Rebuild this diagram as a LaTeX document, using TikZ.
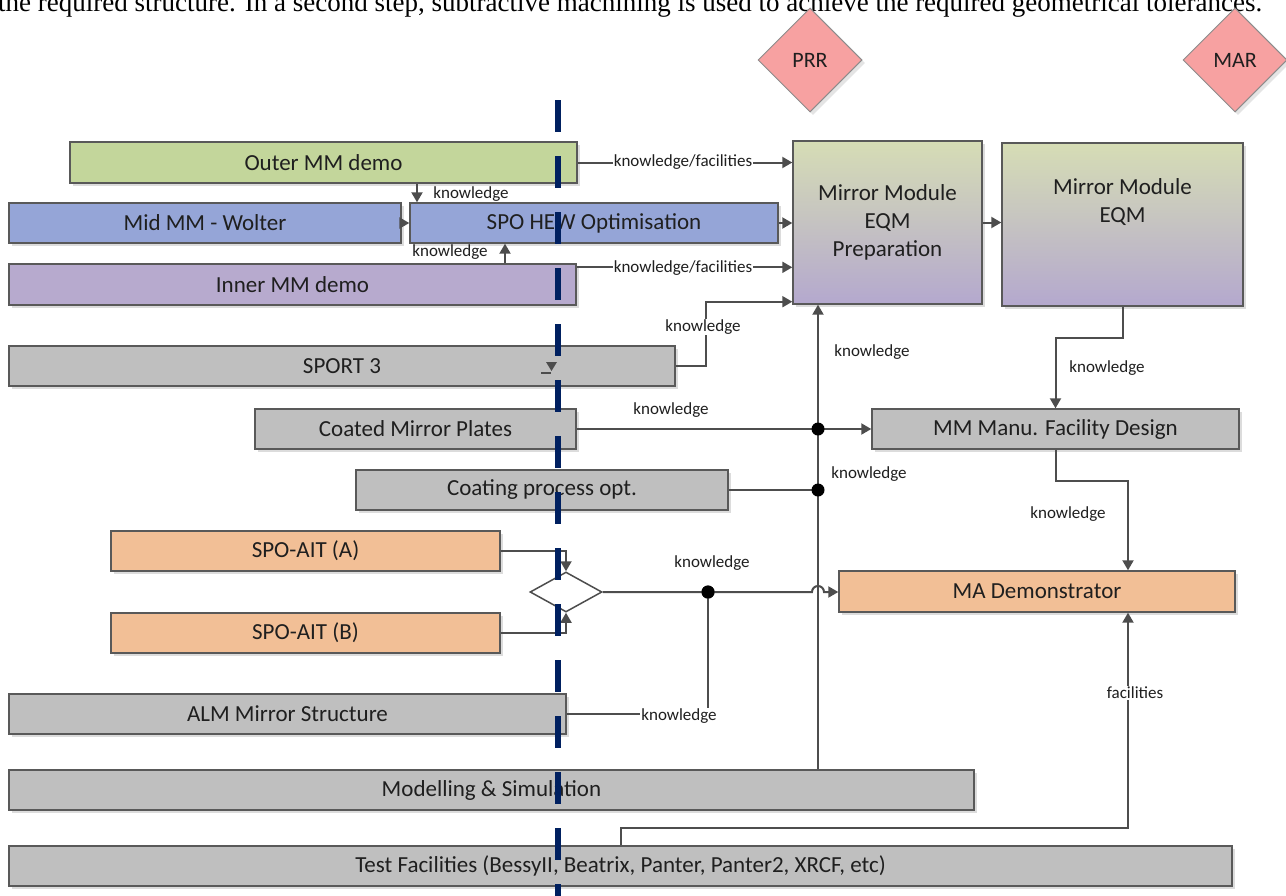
\documentclass[tikz,border=0pt]{standalone}
\usepackage{fontspec}
\setmainfont{Carlito}
\newfontfamily\serifx{Liberation Serif}
\usetikzlibrary{arrows.meta,shapes.geometric,shadows,calc}
\definecolor{cgreen}{HTML}{C3D69B}
\definecolor{cblue}{HTML}{95A5D7}
\definecolor{cpurple}{HTML}{B7AACE}
\definecolor{cgray}{HTML}{BFBFBF}
\definecolor{corange}{HTML}{F2BF96}
\definecolor{cpink}{HTML}{F7A1A1}
\definecolor{gtop}{HTML}{D6DDB5}
\definecolor{gbot}{HTML}{B4A8CE}
\definecolor{bordc}{HTML}{595959}
\definecolor{linec}{HTML}{4D4D4D}
\definecolor{txtc}{HTML}{1F1F1F}
\definecolor{navy}{HTML}{002060}
\begin{document}
\begin{tikzpicture}[x=1pt,y=-1pt,
  box/.style={draw=bordc,line width=1.4pt,minimum height=40pt,inner sep=0pt,
    font=\fontsize{23}{28}\selectfont,text=txtc,
    drop shadow={shadow xshift=3pt,shadow yshift=-3pt,fill=black!30,opacity=0.45}},
  conn/.style={draw=linec,line width=2pt},
  arr/.style={conn,-{Triangle[width=11pt,length=10pt]}},
  lab/.style={font=\fontsize{17}{19}\selectfont,text=txtc,inner sep=1pt},
  labw/.style={lab,fill=white},
  dot/.style={circle,fill=black,inner sep=0pt,minimum size=13pt},
  milestone/.style={diamond,draw=black!45,line width=1pt,fill=cpink,minimum width=104pt,
    minimum height=104pt,inner sep=0pt,font=\fontsize{22}{24}\selectfont,text=txtc,
    drop shadow={shadow xshift=3pt,shadow yshift=-3pt,fill=black!30,opacity=0.35}}
]
\useasboundingbox (0,0) rectangle (1286,895);
\fill[white] (0,0) rectangle (1286,895);

% clipped text line at the top
\node[anchor=base west,inner sep=0pt,font=\serifx\fontsize{27}{27}\selectfont] (toptext) at (-2,11)
  {the required structure. In a second step, subtractive machining is used to achieve the required geometrical tolerances.};

% milestones
\node[milestone] (prr) at (810,60) {PRR};
\node[milestone] (mar) at (1235,60) {MAR};

% boxes
\node[box,fill=cgreen,minimum width=507pt,minimum height=41pt] (outer) at (323.5,162.5) {Outer MM demo};
\node[box,fill=cblue,minimum width=392pt] (mid) at (205,223) {Mid MM - Wolter};
\node[box,fill=cblue,minimum width=368pt] (spo) at (594,223) {SPO HEW Optimisation};
\node[box,fill=cpurple,minimum width=567pt,minimum height=41pt] (inner) at (292.5,284.5) {Inner MM demo};
\node[box,top color=gtop,bottom color=gbot,minimum width=189pt,minimum height=163pt,align=center] (prep) at (887.5,222.5) {Mirror Module\\EQM\\Preparation};
\node[box,top color=gtop,bottom color=gbot,minimum width=241pt,minimum height=163pt,align=center] (eqm) at (1122.5,224.5) {Mirror Module\\EQM\\[20pt]};
\node[box,fill=cgray,minimum width=666pt] (sport) at (342,366) {SPORT 3};
\node[box,fill=cgray,minimum width=321pt] (cmp) at (415.5,429) {Coated Mirror Plates};
\node[box,fill=cgray,minimum width=372pt] (cpo) at (542,490) {Coating process opt.};
\node[box,fill=cgray,minimum width=367pt] (mmm) at (1055.5,429) {MM Manu. Facility Design};
\node[box,fill=corange,minimum width=389pt] (aita) at (305.5,551) {SPO-AIT (A)};
\node[box,fill=corange,minimum width=389pt] (aitb) at (305.5,633) {SPO-AIT (B)};
\node[diamond,draw=linec,line width=1.5pt,fill=white,aspect=1.8,minimum width=72pt,minimum height=40pt,inner sep=0pt] (dia) at (566,592) {};
\node[box,fill=corange,minimum width=396pt,minimum height=41pt] (mad) at (1037,591.5) {MA Demonstrator};
\node[box,fill=cgray,minimum width=557pt] (alm) at (287.5,714) {ALM Mirror Structure};
\node[box,fill=cgray,minimum width=965pt] (mod) at (491.5,790) {Modelling \& Simulation};
\node[box,fill=cgray,minimum width=1223pt] (test) at (620.5,866) {Test Facilities (BessyII, Beatrix, Panter, Panter2, XRCF, etc)};

% helper coordinates
\coordinate (vline) at (818,0);
\coordinate (kx) at (417,0);
\coordinate (ky) at (505,0);
\coordinate (i2) at ([yshift=-4pt]inner.north east);
\node[dot] (jd) at (708,592) {};

% connectors, upper part
\draw[arr] (outer.east) -- (outer.east -| prep.west);
\draw[arr] (i2) -- (i2 -| prep.west);
\draw[arr] (outer.south -| kx) -- (spo.north -| kx);
\draw[arr] (mid.east) -- (spo.west);
\draw[arr] (inner.north -| ky) -- (spo.south -| ky);
\draw[arr] (spo.east) -- (spo.east -| prep.west);
\draw[arr] (prep.east) -- (eqm.west |- prep.east);
\draw[arr] (sport.east) -- ++(30,0) |- ([yshift=3pt]prep.south west);
\draw[arr] (mod.north -| vline) -- (vline |- prep.south);

% middle
\draw[arr] (cmp.east) -- (mmm.west);
\draw[conn] (cpo.east) -- (vline |- cpo.east);
\draw[arr] (eqm.south) -- ++(0,31) -| (mmm.north);
\draw[arr] (mmm.south) -- ++(0,31) -| ([xshift=91pt]mad.north);

% lower part
\draw[arr] (aita.east) -| (dia.north);
\draw[arr] (aitb.east) -| (dia.south);
\draw[arr] (dia.east) -- (jd.center) -- ($(vline |- dia.east)+(-6,0)$)
  arc[start angle=180,end angle=0,radius=6pt] -- (mad.west |- dia.east);
\draw[conn] (alm.east) -| (jd.center);
\draw[arr] (test.north) -- ++(0,-17) -| ([xshift=91pt]mad.south);

% stray stub near SPORT 3
\draw[conn,line width=1.5pt] (541,373) -- (551,373);
\fill[linec] (546,362) -- (557,362) -- (551.5,371) -- cycle;

% dots
\node[dot] (d1) at (vline |- cmp.east) {};
\node[dot] (d2) at (vline |- cpo.east) {};
\node[dot] (jd2) at (jd) {};

% labels
\node[labw] (l1) at (683,162) {knowledge/facilities};
\node[labw] (l2) at (683,268) {knowledge/facilities};
\node[lab] (l3) at (471,194) {knowledge};
\node[lab] (l4) at (450,252) {knowledge};
\node[labw] (l5) at (703,327) {knowledge};
\node[lab] (l6) at (872,352) {knowledge};
\node[lab] (l7) at (671,410) {knowledge};
\node[lab] (l8) at (869,474) {knowledge};
\node[lab] (l9) at (1107,368) {knowledge};
\node[lab] (l10) at (1068,514) {knowledge};
\node[lab] (l11) at (712,563) {knowledge};
\node[labw] (l12) at (679,716) {knowledge};
\node[labw] (l13) at (1135,693) {facilities};

% dashed time line
\coordinate (dtop) at (558,100);
\coordinate (dbot) at (558,930);
\draw[navy,line width=6pt,dash pattern=on 32pt off 24pt] (dtop) -- (dbot);
\end{tikzpicture}
\end{document}
